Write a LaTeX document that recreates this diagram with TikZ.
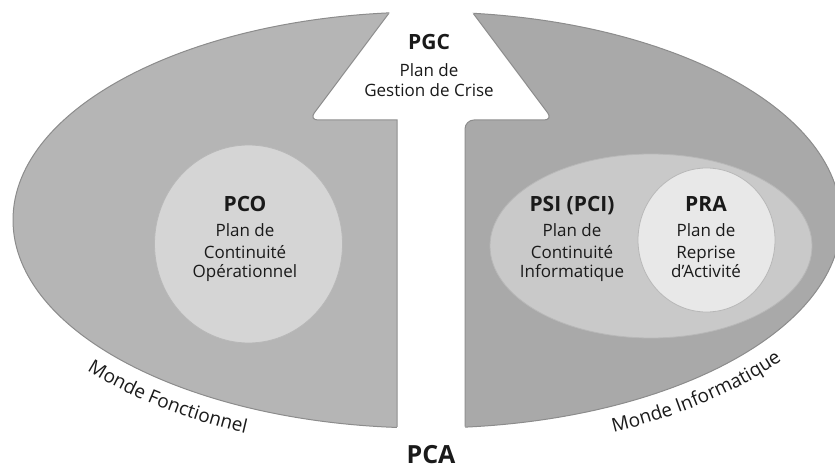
\documentclass[tikz,border=0pt]{standalone}
\usepackage{fontspec}
\setmainfont{Open Sans}
\usetikzlibrary{decorations.text}
\definecolor{leftgray}{HTML}{B5B5B5}
\definecolor{rightgray}{HTML}{A9A9A9}
\definecolor{rimgray}{HTML}{8C8C8C}
\definecolor{pcofill}{HTML}{D5D5D5}
\definecolor{psifill}{HTML}{C9C9C9}
\definecolor{prafill}{HTML}{E8E8E8}
\definecolor{ink}{HTML}{1A1A1A}
\begin{document}
\begin{tikzpicture}[x=1pt,y=1pt,
  titletext/.style={font=\fontsize{21}{21}\selectfont\bfseries, text=ink, anchor=base, inner sep=0pt},
  bodytext/.style={font=\fontsize{17}{17}\selectfont, text=ink, anchor=base, inner sep=0pt},
  rim/.style={draw=rimgray, line width=1pt},
  softrim/.style={draw=black!28, line width=0.8pt},
]
\useasboundingbox (0,0) rectangle (835,469);
\fill[white] (0,0) rectangle (835,469);

% two halves of the big ellipse
\begin{scope}
  \clip (0,0) rectangle (431,469);
  \fill[leftgray] (427,249) ellipse [x radius=414pt, y radius=208pt];
\end{scope}
\begin{scope}
  \clip (431,0) rectangle (835,469);
  \fill[rightgray] (427,249) ellipse [x radius=414pt, y radius=208pt];
\end{scope}
\draw[rim] (427,249) ellipse [x radius=414pt, y radius=208pt];

% white arrow
\begin{scope}
  \clip (427,249) ellipse [x radius=416pt, y radius=210pt];
  \fill[white] (397,-10) -- (397,349) {[rounded corners=9pt] -- (309,349) -- (370,430.5)} -- (431,512)
     {[rounded corners=9pt] -- (492,430.5) -- (553,349) -- (465,349)} -- (465,-10) -- cycle;
\end{scope}
\begin{scope}
  \clip (427,249) ellipse [x radius=413.5pt, y radius=207.5pt];
  \draw[rim] (397,-10) -- (397,349) {[rounded corners=9pt] -- (309,349) -- (370,430.5)} -- (431,512)
     {[rounded corners=9pt] -- (492,430.5) -- (553,349) -- (465,349)} -- (465,-10);
\end{scope}

% inner shapes
\fill[pcofill, softrim] (248.5,225) ellipse [x radius=94pt, y radius=99pt];
\fill[psifill, softrim] (651,223) ellipse [x radius=161pt, y radius=92pt];
\fill[prafill, softrim] (706.5,229) ellipse [x radius=68.5pt, y radius=72pt];

% PGC
\node[titletext] (pgc-t) at (429,419) {PGC};
\node[bodytext] (pgc-1) at (429,392) {Plan de};
\node[bodytext] (pgc-2) at (429,372) {Gestion de Crise};

% PCO
\node[titletext] (pco-t) at (245,257) {PCO};
\node[bodytext] (pco-1) at (245,232) {Plan de};
\node[bodytext] (pco-2) at (245,211) {Continuité};
\node[bodytext] (pco-3) at (245,191) {Opérationnel};

% PSI
\node[titletext] (psi-t) at (572,257) {PSI (PCI)};
\node[bodytext] (psi-1) at (572,232) {Plan de};
\node[bodytext] (psi-2) at (572,211) {Continuité};
\node[bodytext] (psi-3) at (572,191) {Informatique};

% PRA
\node[titletext] (pra-t) at (706,257) {PRA};
\node[bodytext] (pra-1) at (706,232) {Plan de};
\node[bodytext] (pra-2) at (706,211) {Reprise};
\node[bodytext] (pra-3) at (706,191) {d'Activité};

% PCA
\node[titletext, font=\fontsize{25}{25}\selectfont\bfseries] (pca) at (431,6) {PCA};

% curved labels
\path[decorate, decoration={text along path, text align=center,
   text={|\fontsize{19}{19}\selectfont\color{ink}|Monde Fonctionnel}}]
  ([shift={(427,249)}]212:444 and 234) arc[start angle=212, end angle=252, x radius=444pt, y radius=234pt];
\path[decorate, decoration={text along path, text align=center,
   text={|\fontsize{19}{19}\selectfont\color{ink}|Monde Informatique}}]
  ([shift={(427,249)}]289:444 and 234) arc[start angle=289, end angle=331, x radius=444pt, y radius=234pt];
\end{tikzpicture}
\end{document}
